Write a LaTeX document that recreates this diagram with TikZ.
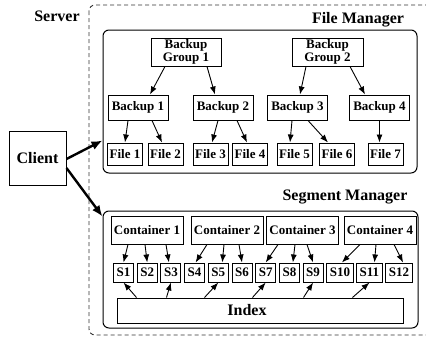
\documentclass[tikz,border=0pt]{standalone}
\usepackage{fontspec}
\setmainfont{Liberation Serif}
\usetikzlibrary{arrows.meta}
\usetikzlibrary{positioning}

\tikzset{
 box/.style={draw, fill=white, line width=1pt, inner sep=0pt, align=center, font=\fontsize{13}{13}\selectfont\bfseries},
 seg/.style={box, minimum width=20pt, minimum height=19pt, inner xsep=3pt},
 mgr/.style={draw, line width=1pt, rounded corners=6pt, inner sep=0pt},
 lbl/.style={inner sep=0pt, font=\fontsize{16}{16}\selectfont\bfseries},
}

\begin{document}
\begin{tikzpicture}[x=1pt, y=-1pt, line width=0.9pt, >={Latex[length=8pt,width=6pt]}]
\useasboundingbox (0,0) rectangle (426,338);
% server and client
\draw[black!80, dash pattern=on 4pt off 3pt, rounded corners=6pt] (89,5) rectangle (440,335);
\node[lbl] (server) at (57,16) {Server};
\node[box, minimum width=57pt, minimum height=54pt, font=\fontsize{16}{16}\selectfont\bfseries] (client) at (37.5,158) {Client};

% file manager
\node[mgr, minimum width=314pt, minimum height=143pt] (fm) at (260,101.5) {};
\node[lbl] (fmlabel) at (358,20) {File Manager};
\node[box, minimum width=70pt, minimum height=28pt] (bg1) at (186,52) {Backup\\Group 1};
\node[box, minimum width=71pt, minimum height=28pt] (bg2) at (327.5,52) {Backup\\Group 2};
\foreach \i/\x in {1/138, 2/223, 3/297.5, 4/379.5}
 \node[box, minimum width=60pt, minimum height=25pt] (b\i) at (\x,107.5) {Backup \i};
\foreach \i/\x in {1/125, 2/165.5, 3/210.5, 4/250, 5/294.5, 6/337, 7/385.5}
 \node[box, minimum width=35pt, minimum height=22pt] (f\i) at (\x,154) {File \i};
\foreach \a/\da/\b/\db in {bg1/-21/b1/12, bg1/21/b2/-8, bg2/-21.5/b3/2.5, bg2/22.5/b4/-14.5,
  b1/-10/f1/0, b1/14/f2/-3.5, b2/-5/f3/1.5, b2/14/f4/-3, b3/-5.5/f5/-4.5, b3/10.5/f6/-9, b4/0/f7/-6}
 \draw[->] ([xshift=\da]\a.south) -- ([xshift=\db]\b.north);

% segment manager
\node[mgr, minimum width=315pt, minimum height=117pt] (sm) at (260.5,269.5) {};
\node[lbl] (smlabel) at (345,197) {Segment Manager};
\foreach \i/\x in {1/147, 2/227, 3/302.5, 4/380}
 \node[box, minimum width=72pt, minimum height=28pt] (c\i) at (\x,230) {Container \i};
\node[seg] (s1) at (123.5,272.5) {S1};
\foreach \i [remember=\i as \j (initially 1)] in {2,...,12}
 \node[seg, right=2.7pt of s\j] (s\i) {S\i};
\node[box, minimum width=286pt, minimum height=25pt, font=\fontsize{16}{16}\selectfont\bfseries] (index) at (260,310.5) {\hspace*{-26pt}Index};
\foreach \c/\a/\s/\b in {1/-19/1/0, 1/-2/2/0, 1/19/3/-2, 2/-20/4/1, 2/-3/5/4, 2/12/6/0,
  3/-24.5/7/0, 3/-7.5/8/3.5, 3/4.5/9/0, 4/-20/10/2, 4/-4/11/5, 4/14/12/4}
 \draw[->] ([xshift=\a]c\c.south) -- ([xshift=\b]s\s.north);
\foreach \s/\a in {1/20, 3/50, 5/88, 7/136, 9/187, 11/236}
 \draw[->] ([xshift=\a]index.north west) -- (s\s.south);

% client requests
\draw[->, line width=2.4pt, >={Latex[length=11pt,width=9pt]}] ([yshift=-1pt]client.east) -- ([yshift=33pt]fm.south west);
\draw[->, line width=2.4pt, >={Latex[length=11pt,width=9pt]}] ([yshift=-10pt]client.east) -- ([yshift=-6pt]sm.north west);
\end{tikzpicture}
\end{document}
